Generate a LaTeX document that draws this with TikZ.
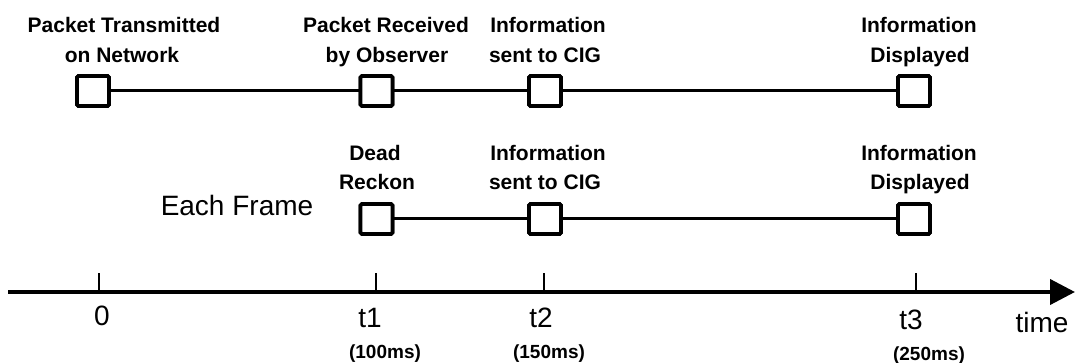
\documentclass[tikz,border=0pt]{standalone}
\usepackage{fontspec}
\setmainfont{Liberation Sans}
\usetikzlibrary{arrows.meta}
\begin{document}
\begin{tikzpicture}[x=1pt,y=-1pt,
  evbox/.style={draw, line width=3.8pt, minimum width=32pt, minimum height=30pt, inner sep=0pt, rounded corners=1.5pt, fill=white},
  conn/.style={line width=3pt},
  lab/.style={font=\fontsize{21}{24}\selectfont\bfseries, anchor=base, inner sep=0pt},
  axlab/.style={font=\fontsize{28}{32}\selectfont, anchor=base, inner sep=0pt},
  mslab/.style={font=\fontsize{19}{22}\selectfont\bfseries, anchor=base, inner sep=0pt},
  tickln/.style={line width=2.6pt},
  axis/.style={line width=4pt, -{Triangle[length=25pt,width=25pt]}}]
\useasboundingbox (0,0) rectangle (1076,363);

% row 1 boxes
\node[evbox] (a0) at (93,91) {};
\node[evbox] (a1) at (376.5,91) {};
\node[evbox] (a2) at (545,91) {};
\node[evbox] (a3) at (914,91) {};
\draw[conn] (a0) -- (a1) -- (a2) -- (a3);
\foreach \n in {a0,a1,a2,a3} \node[evbox] at (\n) {};

% row 2 boxes
\node[evbox] (b1) at (376.5,219) {};
\node[evbox] (b2) at (545,219) {};
\node[evbox] (b3) at (914,219) {};
\draw[conn] (b1) -- (b2) -- (b3);
\foreach \n in {b1,b2,b3} \node[evbox] at (\n) {};

% row 1 labels
\node[lab] (a0t1) at (124,33) {Packet Transmitted};
\node[lab] (a0t2) at (122,63) {on Network};
\node[lab] (a1t1) at (386,33) {Packet Received};
\node[lab] (a1t2) at (387,63) {by Observer};
\node[lab] (a2t1) at (548,33) {Information};
\node[lab] (a2t2) at (545,63) {sent to CIG};
\node[lab] (a3t1) at (919,33) {Information};
\node[lab] (a3t2) at (920,63) {Displayed};

% row 2 labels
\node[lab] (b1t1) at (375,161) {Dead};
\node[lab] (b1t2) at (377,190) {Reckon};
\node[lab] (b2t1) at (548,161) {Information};
\node[lab] (b2t2) at (545,190) {sent to CIG};
\node[lab] (b3t1) at (919,161) {Information};
\node[lab] (b3t2) at (920,190) {Displayed};

\node[font=\fontsize{28}{30}\selectfont, anchor=base, inner sep=0pt] (ef) at (237,216) {Each Frame};

% axis
\coordinate (axs) at (8,292);
\coordinate (axe) at (1075,292);
\draw[axis] (axs) -- (axe);
\coordinate (k0) at (99,292);
\coordinate (k1) at (376,292);
\coordinate (k2) at (544,292);
\coordinate (k3) at (916,292);
\foreach \k in {k0,k1,k2,k3} \draw[tickln] (\k) -- ++(0,-19) coordinate (\k t);

\node[axlab] (l0) at (102,326) {0};
\node[axlab] (l1) at (370,327) {t1};
\node[axlab] (l2) at (541,327) {t2};
\node[axlab] (l3) at (911,329) {t3};
\node[axlab] (lt) at (1042,332) {time};

\node[mslab] (m1) at (385,358) {(100ms)};
\node[mslab] (m2) at (549,358) {(150ms)};
\node[mslab] (m3) at (929,360) {(250ms)};
\end{tikzpicture}
\end{document}
